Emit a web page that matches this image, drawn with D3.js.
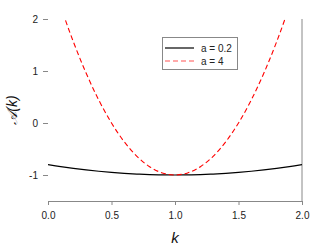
<!DOCTYPE html>
<html><head><meta charset="utf-8">
<script src="https://cdn.jsdelivr.net/npm/d3@7/dist/d3.min.js"></script>
<style>body{margin:0;background:#fff}</style>
</head><body>
<script>
const kValues = [0,0.1,0.2,0.3,0.4,0.5,0.6,0.7,0.8,0.9,1.0,1.1,1.2,1.3,1.4,1.5,1.6,1.7,1.8,1.9,2.0];
const seriesA02 = [-0.80,-0.838,-0.872,-0.902,-0.928,-0.95,-0.968,-0.982,-0.992,-0.998,-1.0,-0.998,-0.992,-0.982,-0.968,-0.95,-0.928,-0.902,-0.872,-0.838,-0.80];
const seriesA4 = [3.0,2.24,1.56,0.96,0.44,0.0,-0.36,-0.64,-0.84,-0.96,-1.0,-0.96,-0.84,-0.64,-0.36,0.0,0.44,0.96,1.56,2.24,3.0];
const seriesNames = ["a = 0.2","a = 4"];
const xTicks = [0,0.5,1.0,1.5,2.0];
const yTicks = [-1,0,1,2];

const W=312,H=249;
const svg=d3.select("body").append("svg").attr("width",W).attr("height",H);
const x=d3.scaleLinear().domain([0,2]).range([48,302]);
const y=d3.scaleLinear().domain([-1.5,2]).range([201,19]);
const font="Liberation Sans, Arial, sans-serif";

svg.append("clipPath").attr("id","clip").append("rect")
  .attr("x",48).attr("y",19).attr("width",254).attr("height",182);

// bottom axis
const xa=svg.append("g").attr("transform","translate(0,201)")
  .call(d3.axisBottom(x).tickValues(xTicks).tickFormat(d3.format(".1f")).tickSize(4).tickSizeOuter(0).tickPadding(7));
xa.select(".domain").attr("stroke","#888");
xa.selectAll(".tick line").attr("stroke","#888");
xa.selectAll("text").attr("font-family",font).attr("font-size",10).attr("fill","#222");

// left ticks, no domain line
const ya=svg.append("g").attr("transform","translate(48,0)")
  .call(d3.axisLeft(y).tickValues(yTicks).tickFormat(d=>String(d)).tickSize(5).tickPadding(5));
ya.select(".domain").remove();
ya.selectAll(".tick line").attr("stroke","#888");
ya.selectAll("text").attr("font-family",font).attr("font-size",10).attr("fill","#222");

// right line
svg.append("line").attr("x1",302).attr("x2",302).attr("y1",19).attr("y2",201).attr("stroke","#888");

const line=d3.line().x((d,i)=>x(kValues[i])).y(d=>y(d)).curve(d3.curveCatmullRom);
const g=svg.append("g").attr("clip-path","url(#clip)");
g.append("path").datum(seriesA02).attr("d",line).attr("fill","none").attr("stroke","#000").attr("stroke-width",1.2);
g.append("path").datum(seriesA4).attr("d",line).attr("fill","none").attr("stroke","#f00").attr("stroke-width",1.1).attr("stroke-dasharray","5,3");

// legend
const lg=svg.append("g");
lg.append("rect").attr("x",162.5).attr("y",37.5).attr("width",75).attr("height",32).attr("fill","#fff").attr("stroke","#888");
const styles=[{c:"#000",d:null,w:1.2},{c:"#f55",d:"5,3",w:1.1}];
seriesNames.forEach((n,i)=>{
  const yy=48+i*13;
  lg.append("line").attr("x1",165).attr("x2",194).attr("y1",yy).attr("y2",yy)
    .attr("stroke",styles[i].c).attr("stroke-width",styles[i].w).attr("stroke-dasharray",styles[i].d);
  lg.append("text").attr("x",201).attr("y",yy+3.5).attr("font-family",font).attr("font-size",10).attr("fill","#222").text(n);
});

// axis titles
svg.append("text").attr("x",175).attr("y",243).attr("text-anchor","middle")
  .attr("font-family",font).attr("font-size",15).attr("font-style","italic").attr("fill","#111").text("k");
svg.append("text").attr("transform","translate(17,110) rotate(-90)").attr("text-anchor","middle")
  .attr("font-family",font).attr("font-size",14).attr("font-style","italic").attr("fill","#111").text("𝒜(k)");
</script>
</body></html>
